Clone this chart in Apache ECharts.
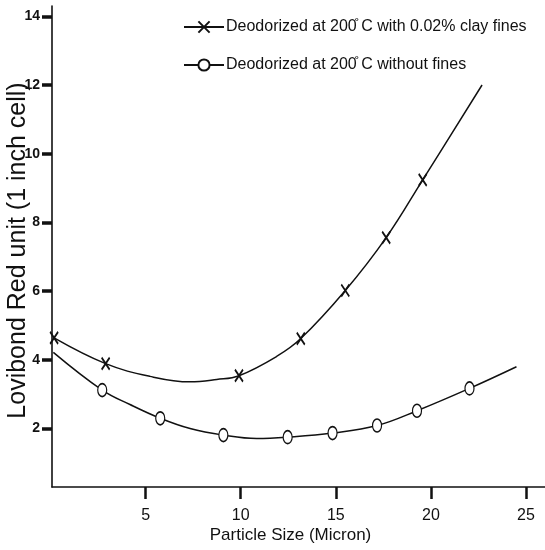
<!DOCTYPE html>
<html>
<head>
<meta charset="utf-8">
<script src="https://cdn.jsdelivr.net/npm/echarts@6/dist/echarts.min.js"></script>
<style>
  html, body { margin: 0; padding: 0; background: #fff; }
  #chart-container { width: 545px; height: 550px; }
</style>
</head>
<body>
<div id="chart-container"></div>
<script>
// particle size (micron) vs Lovibond red
// clay fines curve: points along the fitted line, 1 = measured point (drawn with X)
const clayX = [0.19, 2.9, 5.23, 7.34, 8.74, 9.91, 11.89, 13.16, 15.5, 17.65, 19.57, 22.69];
const clayY = [4.64, 3.89, 3.52, 3.36, 3.43, 3.54, 4.10, 4.62, 6.02, 7.56, 9.24, 12.0];
const clayMeasured = [1, 1, 0, 0, 0, 1, 0, 1, 1, 1, 1, 0];

// without fines curve, 1 = measured point (drawn with circle)
const plainX = [0.15, 2.72, 4.18, 5.77, 7.34, 9.09, 10.84, 12.47, 14.83, 17.17, 19.27, 22.03, 24.5];
const plainY = [4.22, 3.12, 2.70, 2.30, 2.00, 1.81, 1.71, 1.75, 1.87, 2.09, 2.52, 3.17, 3.80];
const plainMeasured = [0, 1, 0, 1, 0, 1, 0, 1, 1, 1, 1, 1, 0];

const xTicks = [5, 10, 15, 20, 25];
const yTicks = [2, 4, 6, 8, 10, 12, 14];

const seriesNames = [
  "Deodorized at 200\u030A C with 0.02% clay fines",
  "Deodorized at 200\u030A C without fines",
];

const sans = "'Liberation Sans', Arial, sans-serif";

const toData = (xs, ys, measured) =>
  xs.map((x, i) => {
    const item = { value: [x, ys[i]] };
    if (!measured[i]) item.symbol = "none";
    return item;
  });

const chart = echarts.init(document.getElementById("chart-container"));

const option = {
  animation: false,
  backgroundColor: "#fff",
  grid: { left: 52, right: 0, top: 6, bottom: 63, outerBoundsMode: "none", containLabel: false },
  legend: {
    orient: "vertical",
    left: 178,
    top: 14,
    itemWidth: 40,
    itemHeight: 14,
    itemGap: 22,
    textStyle: { fontFamily: sans, fontSize: 16, lineHeight: 16, color: "#111", padding: [0, 0, 0, -3] },
    data: seriesNames,
  },
  xAxis: {
    type: "value",
    min: 0.08,
    max: 26,
    name: "Particle Size (Micron)",
    nameLocation: "middle",
    nameGap: 40,
    nameMoveOverlap: false,
    nameTextStyle: { fontFamily: sans, fontSize: 17, color: "#111", padding: [0, 16, 0, 0] },
    axisLine: { show: true, lineStyle: { color: "#111", width: 1.6 } },
    axisTick: { show: true, customValues: xTicks, length: 12, lineStyle: { color: "#111", width: 2.5 } },
    axisLabel: { customValues: xTicks, margin: 21, fontFamily: sans, fontSize: 16, color: "#111" },
    splitLine: { show: false },
  },
  yAxis: {
    type: "value",
    min: 0.3,
    max: 14.3,
    name: "Lovibond Red unit (1 inch cell)",
    nameLocation: "middle",
    nameGap: 21,
    nameMoveOverlap: false,
    nameTextStyle: { fontFamily: sans, fontSize: 25, color: "#111", padding: [0, 8, 0, 0] },
    axisLine: { show: true, lineStyle: { color: "#111", width: 1.6 } },
    axisTick: { show: true, customValues: yTicks, length: 10, lineStyle: { color: "#111", width: 3.5 } },
    axisLabel: { customValues: yTicks, margin: 12, fontFamily: sans, fontSize: 14, fontWeight: "bold", color: "#111" },
    splitLine: { show: false },
  },
  series: [
    {
      name: seriesNames[0],
      type: "line",
      smooth: 0.4,
      data: toData(clayX, clayY, clayMeasured),
      symbol: "path://M0,0L8,12M8,0L0,12",
      symbolSize: [8, 12],
      lineStyle: { color: "#111", width: 1.5 },
      itemStyle: { color: "#111", borderColor: "#111", borderWidth: 1.9 },
      z: 3,
    },
    {
      name: seriesNames[1],
      type: "line",
      smooth: 0.4,
      data: toData(plainX, plainY, plainMeasured),
      symbol: "path://M0,7A4.5,7,0,1,0,9,7A4.5,7,0,1,0,0,7Z",
      symbolSize: [9, 13],
      lineStyle: { color: "#111", width: 1.5 },
      itemStyle: { color: "#fff", borderColor: "#111", borderWidth: 1.4 },
      z: 3,
    },
  ],
};

chart.setOption(option);
</script>
</body>
</html>
